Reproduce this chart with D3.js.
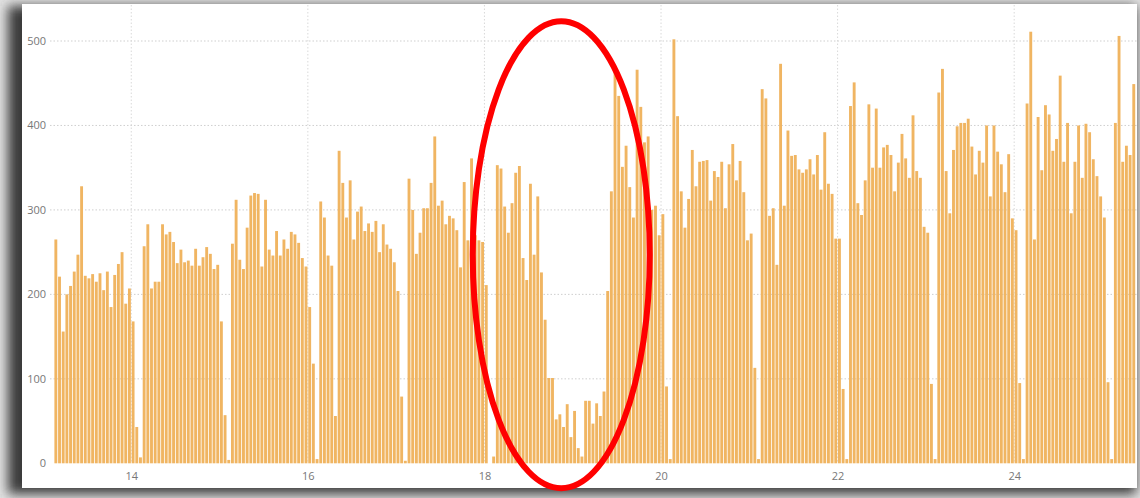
<!DOCTYPE html>
<html>
<head>
<meta charset="utf-8">
<script src="https://d3js.org/d3.v7.min.js"></script>
<style>
  body { margin: 0; background: #e2e2e2; overflow: hidden; }
  text { font-family: "Open Sans", "DejaVu Sans", sans-serif; }
</style>
</head>
<body>
<script>
// Hourly counts, one row per day cycle (first bar = day 13, 03:00):
const firstDay = 13;
const firstHour = 3;
const day13 = [265, 221, 156, 200, 210, 227, 247, 328, 222, 219, 224, 215, 225, 205, 227, 185, 223, 236, 250, 189, 207, 168, 43, 7];
const day14 = [257, 283, 207, 215, 215, 283, 271, 274, 262, 237, 253, 238, 240, 234, 254, 234, 244, 256, 248, 230, 235, 168, 57, 4];
const day15 = [260, 312, 241, 230, 279, 317, 320, 319, 233, 312, 253, 246, 275, 246, 265, 254, 274, 271, 261, 243, 233, 185, 118, 5];
const day16 = [310, 291, 246, 234, 56, 370, 332, 291, 335, 265, 298, 304, 275, 284, 274, 287, 250, 283, 259, 254, 238, 204, 79, 3];
const day17 = [337, 300, 248, 273, 302, 302, 332, 387, 305, 311, 283, 293, 290, 276, 232, 333, 264, 361, 270, 264, 262, 211, 0, 8];
const day18 = [353, 349, 304, 273, 308, 344, 352, 243, 217, 331, 247, 316, 226, 170, 101, 101, 52, 58, 43, 70, 31, 62, 18, 8];
const day19 = [74, 74, 47, 71, 56, 85, 204, 322, 465, 435, 351, 376, 327, 291, 466, 422, 380, 387, 300, 305, 270, 295, 91, 5];
const day20 = [502, 411, 322, 279, 313, 371, 328, 357, 358, 359, 311, 346, 339, 357, 302, 354, 378, 335, 358, 321, 264, 272, 113, 5];
const day21 = [443, 432, 293, 302, 235, 473, 305, 394, 364, 365, 348, 344, 348, 360, 342, 365, 324, 392, 331, 319, 266, 266, 88, 5];
const day22 = [423, 451, 308, 294, 335, 425, 350, 420, 350, 374, 377, 365, 322, 356, 390, 361, 338, 412, 346, 338, 280, 273, 94, 5];
const day23 = [439, 467, 346, 296, 371, 399, 403, 403, 408, 375, 342, 370, 356, 400, 316, 400, 369, 354, 321, 366, 290, 276, 95, 5];
const day24 = [426, 511, 265, 410, 347, 424, 413, 370, 384, 459, 357, 403, 296, 357, 400, 338, 402, 392, 360, 340, 316, 291, 96, 5];
const day25 = [403, 506, 357, 376, 365, 449];

const counts = [].concat(day13, day14, day15, day16, day17, day18, day19, day20, day21, day22, day23, day24, day25);

const xTicks = [14, 16, 18, 20, 22, 24];
const yTicks = [0, 100, 200, 300, 400, 500];

// Variable setup:
const width = 1140;
const height = 498;
const plotLeft = 54;
const plotRight = 1135.6;
const plotBottom = 463.3;
const plotTop = 41;
const barColor = "#f0b562";

const svg = d3
  .select("body")
  .append("svg")
  .attr("width", width)
  .attr("height", height);

// Card with shadow (screenshot frame):
const defs = svg.append("defs");
defs
  .append("filter")
  .attr("id", "shadow")
  .attr("x", "-10%")
  .attr("y", "-10%")
  .attr("width", "120%")
  .attr("height", "120%")
  .append("feGaussianBlur")
  .attr("stdDeviation", 6);

svg
  .append("rect")
  .attr("x", 8)
  .attr("y", 6)
  .attr("width", 1128)
  .attr("height", 488)
  .style("fill", "#3a3a3a")
  .attr("filter", "url(#shadow)");

svg
  .append("rect")
  .attr("x", 22)
  .attr("y", 4)
  .attr("width", 1115)
  .attr("height", 484)
  .style("fill", "white");

// Scales:
const t0 = firstDay + firstHour / 24;
const xScale = d3
  .scaleLinear()
  .domain([t0, t0 + counts.length / 24])
  .range([plotLeft, plotRight]);
const yScale = d3.scaleLinear().domain([0, 500]).range([plotBottom, plotTop]);
const step = xScale(t0 + 1 / 24) - xScale(t0);

// Adding grid:
svg
  .append("g")
  .selectAll("line")
  .data(yTicks.filter((d) => d > 0))
  .enter()
  .append("line")
  .attr("x1", 50)
  .attr("x2", plotRight + 1)
  .attr("y1", (d) => yScale(d))
  .attr("y2", (d) => yScale(d))
  .style("stroke", "#cfcfcf")
  .style("stroke-dasharray", "1.5,2");

svg
  .append("g")
  .selectAll("line")
  .data(xTicks)
  .enter()
  .append("line")
  .attr("x1", (d) => xScale(d))
  .attr("x2", (d) => xScale(d))
  .attr("y1", 5)
  .attr("y2", plotBottom)
  .style("stroke", "#d9d9d9")
  .style("stroke-dasharray", "1.5,2");

// Adding bars:
svg
  .append("g")
  .selectAll("rect")
  .data(counts)
  .enter()
  .append("rect")
  .attr("x", (d, i) => xScale(t0 + i / 24) + 0.4)
  .attr("width", step - 0.8)
  .attr("y", (d) => yScale(d))
  .attr("height", (d) => plotBottom - yScale(d))
  .style("fill", barColor);

// Adding axes:
const xAxis = d3
  .axisBottom(xScale)
  .tickValues(xTicks)
  .tickSize(0)
  .tickPadding(9)
  .tickFormat(d3.format("d"));
svg
  .append("g")
  .attr("transform", `translate(0, ${plotBottom})`)
  .call(xAxis)
  .call((g) => g.select(".domain").remove())
  .selectAll("text")
  .style("font-size", "11px")
  .style("fill", "#777");

const yAxis = d3
  .axisLeft(yScale)
  .tickValues(yTicks)
  .tickSize(0)
  .tickPadding(0);
svg
  .append("g")
  .attr("transform", "translate(46, 0)")
  .call(yAxis)
  .call((g) => g.select(".domain").remove())
  .selectAll("text")
  .style("font-size", "11px")
  .style("fill", "#777");

// Red annotation ellipse:
svg
  .append("ellipse")
  .attr("cx", xScale(18.87))
  .attr("cy", yScale(247))
  .attr("rx", 88.5)
  .attr("ry", 233.5)
  .style("fill", "none")
  .style("stroke", "#ff0000")
  .style("stroke-width", 6);
</script>
</body>
</html>
